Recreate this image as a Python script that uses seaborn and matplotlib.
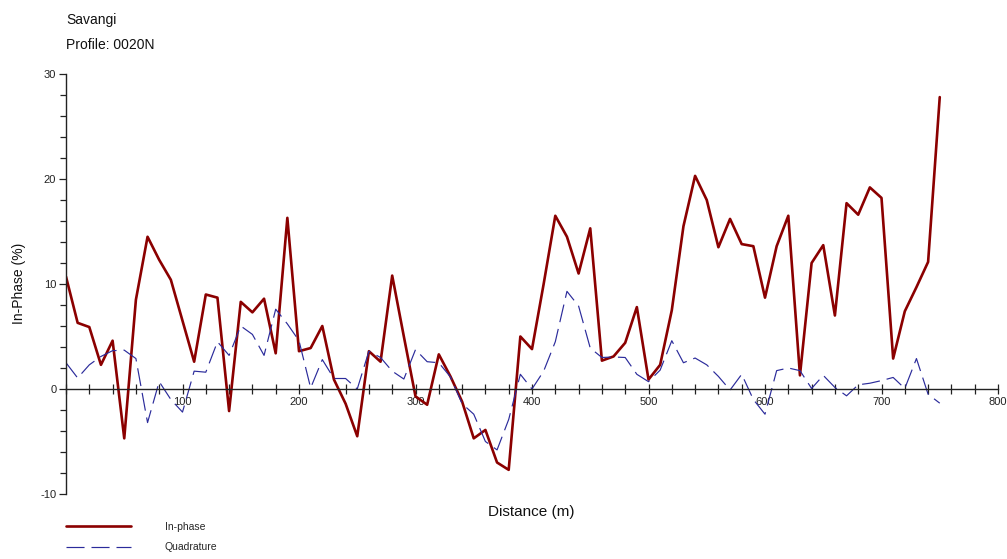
import numpy as np
import pandas as pd
import matplotlib
matplotlib.use("Agg")
import matplotlib.pyplot as plt
from matplotlib.ticker import FixedLocator, MultipleLocator, FuncFormatter
from matplotlib.lines import Line2D
import seaborn as sns

# ---------------- data ----------------
distance = list(range(0, 760, 10))
in_phase = [10.7, 6.3, 5.9, 2.3, 4.6, -4.7, 8.5, 14.5, 12.3, 10.4,
            6.5, 2.6, 9.0, 8.7, -2.1, 8.3, 7.3, 8.6, 3.4, 16.3,
            3.6, 3.9, 6.0, 0.9, -1.4, -4.5, 3.6, 2.6, 10.8, 5.0,
            -0.7, -1.5, 3.3, 1.2, -1.2, -4.7, -3.9, -7.0, -7.7, 5.0,
            3.8, 10.0, 16.5, 14.5, 11.0, 15.3, 2.7, 3.1, 4.4, 7.8,
            0.9, 2.3, 7.5, 15.5, 20.3, 18.0, 13.5, 16.2, 13.8, 13.6,
            8.7, 13.6, 16.5, 1.3, 12.0, 13.7, 7.0, 17.7, 16.6, 19.2,
            18.2, 2.9, 7.4, 9.7, 12.1, 27.8]
quadrature = [2.5, 1.05, 2.3, 3.1, 3.65, 3.7, 2.9, -3.2, 0.7, -1.0,
              -2.2, 1.7, 1.6, 4.5, 3.2, 6.0, 5.2, 3.2, 7.6, 6.2,
              4.6, 0.1, 2.8, 1.0, 1.0, 0.0, 3.6, 3.0, 1.7, 0.95,
              3.75, 2.6, 2.5, 1.15, -1.4, -2.4, -5.0, -5.8, -2.9, 1.4,
              0.0, 1.7, 4.5, 9.3, 7.9, 3.9, 3.0, 3.05, 3.0, 1.4,
              0.7, 1.8, 4.6, 2.5, 2.95, 2.3, 1.2, -0.1, 1.4, -1.0,
              -2.4, 1.75, 2.0, 1.75, 0.05, 1.3, 0.15, -0.65, 0.4, 0.55,
              0.8, 1.1, 0.05, 2.9, -0.5, -1.35]
series_names = ["In-phase", "Quadrature"]
x_ticks = [0, 100, 200, 300, 400, 500, 600, 700, 800]
y_ticks = [-10, 0, 10, 20, 30]
title_lines = ["Savangi", "Profile: 0020N"]

# ---------------- style ----------------
sns.set_style("white")
plt.rcParams["font.family"] = ["Liberation Sans", "DejaVu Sans"]
plt.rcParams["lines.scale_dashes"] = False
plt.rcParams["axes.unicode_minus"] = False

W, H = 1007, 559
fig = plt.figure(figsize=(W / 100, H / 100), dpi=100)
ax = fig.add_axes([66 / W, 1 - 494 / H, (998 - 66) / W, (494 - 74) / H])

df = pd.DataFrame({"Distance": distance, "In-phase": in_phase, "Quadrature": quadrature})

ip_color = "#8b0000"
q_color = "#2b2b9b"
sns.lineplot(data=df, x="Distance", y="In-phase", ax=ax, color=ip_color,
             linewidth=1.9, label=series_names[0], legend=False)
sns.lineplot(data=df, x="Distance", y="Quadrature", ax=ax, color=q_color,
             linewidth=0.85, linestyle=(0, (13, 5)), label=series_names[1], legend=False)

ax.set_xlim(0, 800)
ax.set_ylim(-10, 30)

# spines
for s in ["top", "right"]:
    ax.spines[s].set_visible(False)
ax.spines["bottom"].set_position(("data", 0))
ax.spines["left"].set_bounds(-10, 30)
for s in ["left", "bottom"]:
    ax.spines[s].set_color("#222222")
    ax.spines[s].set_linewidth(1.0)

# ticks
ax.xaxis.set_major_locator(FixedLocator(x_ticks))
ax.xaxis.set_minor_locator(MultipleLocator(20))
ax.xaxis.set_major_formatter(FuncFormatter(lambda v, p: "" if v == 0 else f"{int(v)}"))
ax.yaxis.set_major_locator(FixedLocator(y_ticks))
ax.yaxis.set_minor_locator(MultipleLocator(2))
ax.tick_params(axis="x", which="both", direction="inout", length=7, width=0.9,
               colors="#222222", labelsize=8, pad=2, bottom=True)
ax.tick_params(axis="y", which="major", direction="out", length=5, width=0.9,
               colors="#222222", labelsize=8, pad=2, left=True)
ax.tick_params(axis="y", which="minor", direction="out", length=4, width=0.9,
               colors="#222222", left=True)

# labels
ax.set_xlabel("Distance (m)", fontsize=11, color="#111111", va="center")
ax.xaxis.set_label_coords((531 - 66) / (998 - 66), (494 - 512) / (494 - 74))
ax.set_ylabel("In-Phase (%)", fontsize=10, color="#111111", va="center")
ax.yaxis.set_label_coords((19 - 66) / (998 - 66), (494 - 283) / (494 - 74))

# titles
fig.text(66 / W, 1 - 24 / H, title_lines[0], fontsize=10, color="#111111", ha="left", va="baseline")
fig.text(66 / W, 1 - 49 / H, title_lines[1], fontsize=10, color="#111111", ha="left", va="baseline")

# legend
handles = [Line2D([], [], color=ip_color, linewidth=1.9),
           Line2D([], [], color=q_color, linewidth=0.85, linestyle=(0, (13, 5)))]
fig.legend(handles, series_names, loc="upper left",
           bbox_to_anchor=(66 / W, 1 - 522 / H), frameon=False, fontsize=7.5,
           handlelength=6.2, handletextpad=3.3, labelspacing=1.0,
           borderpad=0, borderaxespad=0)

fig.savefig("out.png", dpi=100)
